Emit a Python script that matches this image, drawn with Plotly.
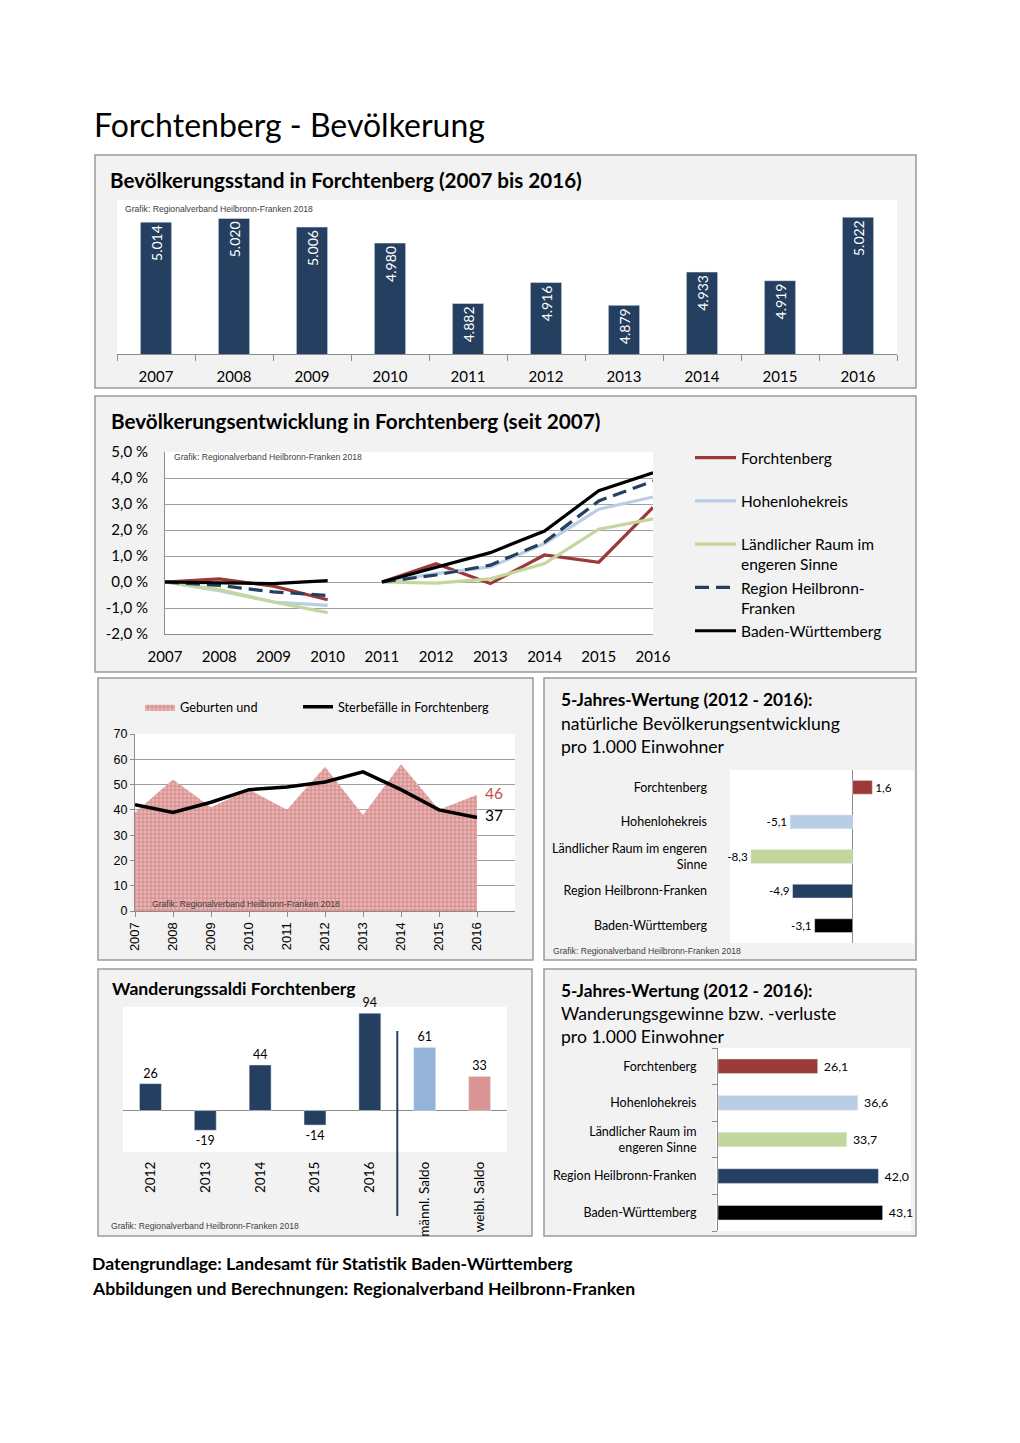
import plotly.graph_objects as go

W, H = 1020, 1443
OFF = 8  # page body margin of the exported HTML


def px(x):
    return (x - OFF) / W


def py(y):
    return 1 - (y - OFF) / H


FONT = "Lato"
ARIAL = "Liberation Sans"
NAVY = "#243f60"
RED = "#9b3a38"
LBLUE = "#b9cde5"
GREEN = "#c3d69b"
GRID = "#a0a0a0"

# ---------------- data ----------------
years = [2007, 2008, 2009, 2010, 2011, 2012, 2013, 2014, 2015, 2016]
year_labels = [str(y) for y in years]
population = [5014, 5020, 5006, 4980, 4882, 4916, 4879, 4933, 4919, 5022]

dev_forch = [0.0, 0.12, -0.16, -0.68, 0.0, 0.70, -0.06, 1.04, 0.76, 2.87]
dev_hohen = [0.0, -0.33, -0.77, -0.90, 0.0, 0.32, 0.58, 1.48, 2.80, 3.27]
dev_laendl = [0.0, -0.29, -0.77, -1.18, 0.0, -0.04, 0.12, 0.71, 2.03, 2.43]
dev_region = [0.0, -0.13, -0.38, -0.52, 0.0, 0.27, 0.65, 1.53, 3.12, 3.88]
dev_bw = [0.0, -0.04, -0.06, 0.05, 0.0, 0.55, 1.13, 1.96, 3.51, 4.20]
dev_ticks = [-2, -1, 0, 1, 2, 3, 4, 5]

births = [39, 52, 41, 48, 40, 57, 38, 58, 40, 46]
deaths = [42, 39, 43, 48, 49, 51, 55, 48, 40, 37]

regions = ["Forchtenberg", "Hohenlohekreis", "Ländlicher Raum im engeren Sinne",
           "Region Heilbronn-Franken", "Baden-Württemberg"]
region_labels_nat = ["Forchtenberg", "Hohenlohekreis", "Ländlicher Raum im engeren<br>Sinne",
                     "Region Heilbronn-Franken", "Baden-Württemberg"]
region_labels_mig = ["Forchtenberg", "Hohenlohekreis", "Ländlicher Raum im<br>engeren Sinne",
                     "Region Heilbronn-Franken", "Baden-Württemberg"]
region_colors = [RED, LBLUE, GREEN, NAVY, "#000000"]
natural = [1.6, -5.1, -8.3, -4.9, -3.1]
migration_rate = [26.1, 36.6, 33.7, 42.0, 43.1]

saldo_cats = ["2012", "2013", "2014", "2015", "2016", "männl. Saldo", "weibl. Saldo"]
saldo_vals = [26, -19, 44, -14, 94, 61, 33]
saldo_colors = [NAVY, NAVY, NAVY, NAVY, NAVY, "#95b3d7", "#d99694"]


def de1(v):
    return f"{v:.1f}".replace(".", ",")


def thousands(v):
    return f"{v:,}".replace(",", ".")


def split(vals):
    xs = years[:4] + [None] + years[4:]
    ys = vals[:4] + [None] + vals[4:]
    return xs, ys


def last_label(vals):
    return [""] * (len(vals) - 1) + ["\u00a0\u00a0" + str(vals[-1])]


fig = go.Figure()

# ---------------- panel 1: population bars ----------------
fig.add_trace(go.Bar(
    x=year_labels, y=population, xaxis="x", yaxis="y",
    marker=dict(color=NAVY), showlegend=False,
    text=[thousands(v) for v in population], textposition="inside",
    textangle=-90, insidetextanchor="end",
    textfont=dict(family=FONT, size=14, color="white"),
))

# ---------------- panel 2: development lines ----------------
series = [
    ("Forchtenberg<br>\u00a0", dev_forch, RED, "solid"),
    ("Hohenlohekreis<br>\u00a0", dev_hohen, LBLUE, "solid"),
    ("Ländlicher Raum im<br>engeren Sinne", dev_laendl, GREEN, "solid"),
    ("Region Heilbronn-<br>Franken", dev_region, NAVY, "14px,7px"),
    ("Baden-Württemberg", dev_bw, "#000000", "solid"),
]
for name, vals, col, dash in series:
    xs, ys = split(vals)
    fig.add_trace(go.Scatter(
        x=xs, y=ys, xaxis="x2", yaxis="y2", mode="lines", name=name,
        line=dict(color=col, width=3.2, dash=dash), legend="legend2",
        connectgaps=False,
    ))

# ---------------- panel 3: births / deaths ----------------
fig.add_trace(go.Scatter(
    x=years, y=births, xaxis="x3", yaxis="y3", mode="lines+text",
    fill="tozeroy", line=dict(width=0, color="#d99694"),
    fillpattern=dict(shape=".", size=4, solidity=0.45, fgcolor="#f5dcdc", bgcolor="#d99392"),
    name="Geburten und", legend="legend3",
    text=last_label(births), textposition="middle right",
    textfont=dict(family=FONT, size=15.5, color="#c0504d"), cliponaxis=False,
))
fig.add_trace(go.Scatter(
    x=years, y=deaths, xaxis="x3", yaxis="y3", mode="lines+text",
    line=dict(width=3.5, color="#000000"),
    name="Sterbefälle in Forchtenberg", legend="legend4",
    text=last_label(deaths), textposition="middle right",
    textfont=dict(family=FONT, size=15.5, color="#000000"), cliponaxis=False,
))

# ---------------- panel 4: natural development ----------------
fig.add_trace(go.Bar(
    x=natural, y=regions, orientation="h", xaxis="x4", yaxis="y4",
    marker=dict(color=region_colors), showlegend=False,
    text=[de1(v) for v in natural], textposition="outside",
    textfont=dict(family=FONT, size=13.5, color="#000000"), cliponaxis=False,
))

# ---------------- panel 5: migration saldi ----------------
fig.add_trace(go.Bar(
    x=saldo_cats, y=saldo_vals, xaxis="x5", yaxis="y5",
    marker=dict(color=saldo_colors), showlegend=False,
    text=[str(v) for v in saldo_vals], textposition="outside",
    textfont=dict(family=FONT, size=12.5, color="#000000"), cliponaxis=False,
))

# ---------------- panel 6: migration rates ----------------
fig.add_trace(go.Bar(
    x=migration_rate, y=regions, orientation="h", xaxis="x6", yaxis="y6",
    marker=dict(color=region_colors), showlegend=False,
    text=["\u00a0" + de1(v) for v in migration_rate], textposition="outside",
    textfont=dict(family=FONT, size=13.5, color="#000000"), cliponaxis=False,
))

# ---------------- shapes (panels) ----------------
shapes = []
panels = [(95, 155, 916, 388), (95, 396, 916, 672), (98, 678, 533, 960),
          (544, 678, 916, 960), (98, 969, 532, 1236), (544, 969, 916, 1236)]
for x0, y0, x1, y1 in panels:
    shapes.append(dict(type="rect", xref="paper", yref="paper", layer="below",
                       x0=px(x0), x1=px(x1), y0=py(y1), y1=py(y0),
                       fillcolor="#f2f2f2", line=dict(color="#9a9a9a", width=1.5)))
whites = [(117, 200, 897, 354), (165, 452, 653, 634), (135, 734, 515, 911),
          (730, 770, 914, 943), (123, 1007, 507, 1152), (716, 1048, 911, 1231)]
for x0, y0, x1, y1 in whites:
    shapes.append(dict(type="rect", xref="paper", yref="paper", layer="below",
                       x0=px(x0), x1=px(x1), y0=py(y1), y1=py(y0),
                       fillcolor="#ffffff", line=dict(width=0)))
# separator in panel 5
shapes.append(dict(type="line", xref="x5", yref="paper", x0=4.5, x1=4.5,
                   y0=py(1216), y1=py(1031), line=dict(color=NAVY, width=2)))

# ---------------- annotations ----------------
ann = []


def text(x, y, t, size, bold=False, family=FONT, color="#000000"):
    ann.append(dict(x=px(x), y=py(y), xref="paper", yref="paper", text=t, showarrow=False,
                    xanchor="left", yanchor="middle", align="left",
                    font=dict(family=family, size=size, color=color,
                              weight="bold" if bold else "normal")))


text(92, 124, "Forchtenberg - Bevölkerung", 32)
text(108, 180, "Bevölkerungsstand in Forchtenberg (2007 bis 2016)", 20.6, bold=True)
text(109, 421, "Bevölkerungsentwicklung in Forchtenberg (seit 2007)", 20.7, bold=True)
text(559, 700, "5-Jahres-Wertung (2012 - 2016):", 17.3, bold=True)
text(559, 723, "natürliche Bevölkerungsentwicklung", 17.6)
text(559, 746, "pro 1.000 Einwohner", 17.6)
text(110, 988, "Wanderungssaldi Forchtenberg", 17.6, bold=True)
text(559, 990, "5-Jahres-Wertung (2012 - 2016):", 17.3, bold=True)
text(559, 1013, "Wanderungsgewinne bzw. -verluste", 17.6)
text(559, 1036, "pro 1.000 Einwohner", 17.6)
text(90, 1263, "Datengrundlage: Landesamt für Statistik Baden-Württemberg", 17.6, bold=True)
text(90, 1288, "Abbildungen und Berechnungen: Regionalverband Heilbronn-Franken", 17.6, bold=True)

credit = "Grafik: Regionalverband Heilbronn-Franken 2018"
for (cx, cy) in [(123, 209), (172, 457), (150, 904), (551, 951), (109, 1226)]:
    text(cx, cy, credit, 8.6, family=ARIAL, color="#404040")

# ---------------- layout ----------------
axfont = dict(family=FONT, size=15, color="#000000")
fig.update_layout(
    width=W, height=H, margin=dict(l=0, r=0, t=0, b=0, pad=0, autoexpand=False),
    paper_bgcolor="#ffffff", plot_bgcolor="rgba(0,0,0,0)",
    bargap=0.6, shapes=shapes, annotations=ann,
    font=dict(family=FONT, color="#000000"),
    # panel 1
    xaxis=dict(domain=[px(117), px(897)], anchor="y", type="category",
               showline=True, linecolor="#8c8c8c", ticks="outside", tickson="boundaries",
               ticklen=6, tickcolor="#8c8c8c", tickfont=axfont, showgrid=False,
               ticklabelstandoff=9),
    yaxis=dict(domain=[py(354), py(200)], anchor="x", range=[4800, 5050], visible=False),
    # panel 2
    xaxis2=dict(domain=[px(165), px(653)], anchor="y2", range=[2007, 2016],
                tickvals=years, ticktext=year_labels, tickfont=axfont,
                showline=True, linecolor="#8c8c8c", showgrid=False, zeroline=False,
                ticks="", ticklabelstandoff=9),
    yaxis2=dict(domain=[py(634), py(452)], anchor="x2", range=[-2, 5],
                tickvals=dev_ticks, ticktext=[f"{v:.1f} %".replace(".", ",") for v in dev_ticks],
                tickfont=axfont, showgrid=True, gridcolor=GRID, gridwidth=1,
                showline=True, linecolor="#8c8c8c", zeroline=False, ticks="",
                ticklabelstandoff=13),
    # panel 3
    xaxis3=dict(domain=[px(135), px(515)], anchor="y3", range=[2007, 2017],
                tickvals=years, ticktext=year_labels, tickangle=-90,
                tickfont=dict(family=ARIAL, size=13, color="#000000"),
                showline=True, linecolor="#8c8c8c", ticks="outside", ticklen=5,
                tickcolor="#8c8c8c", showgrid=False, zeroline=False),
    yaxis3=dict(domain=[py(911), py(734)], anchor="x3", range=[0, 70], dtick=10,
                tickfont=dict(family=ARIAL, size=12.5, color="#000000"),
                showgrid=True, gridcolor=GRID, showline=True, linecolor="#8c8c8c",
                ticks="outside", ticklen=4, tickcolor="#8c8c8c", zeroline=False),
    # panel 4
    xaxis4=dict(domain=[px(730), px(914)], anchor="y4", range=[-10, 5], showticklabels=False,
                showgrid=False, zeroline=True, zerolinecolor="#8c8c8c", zerolinewidth=1,
                showline=False),
    yaxis4=dict(domain=[py(943), py(770)], anchor="x4", type="category",
                categoryarray=regions, autorange="reversed",
                tickvals=regions, ticktext=region_labels_nat,
                tickfont=dict(family=FONT, size=12.5, color="#000000"),
                showline=False, showgrid=False, ticks="", ticklabelstandoff=22),
    # panel 5
    xaxis5=dict(domain=[px(123), px(507)], anchor="y5", type="category", tickangle=-90,
                tickfont=dict(family=FONT, size=13.5, color="#000000"),
                showline=False, showgrid=False, ticks="", ticklabelstandoff=6),
    yaxis5=dict(domain=[py(1152), py(1007)], anchor="x5", range=[-40, 100],
                showticklabels=False, showgrid=False, zeroline=True,
                zerolinecolor="#8c8c8c", zerolinewidth=1, showline=False),
    # panel 6
    xaxis6=dict(domain=[px(718), px(909)], anchor="y6", range=[0, 50],
                showticklabels=False, showgrid=False, zeroline=False, showline=False),
    yaxis6=dict(domain=[py(1231), py(1048)], anchor="x6", type="category",
                categoryarray=regions, autorange="reversed",
                tickvals=regions, ticktext=region_labels_mig,
                tickfont=dict(family=FONT, size=12.5, color="#000000"),
                showline=True, linecolor="#8c8c8c", ticks="outside", tickson="boundaries",
                ticklen=5, tickcolor="#8c8c8c", showgrid=False, ticklabelstandoff=18),
    legend2=dict(x=px(690), y=py(441), xanchor="left", yanchor="top",
                 font=dict(family=FONT, size=15.5, color="#000000"), itemwidth=41,
                 bgcolor="rgba(0,0,0,0)", valign="top", tracegroupgap=0),
    legend3=dict(x=px(140), y=py(692), xanchor="left", yanchor="top",
                 font=dict(family=FONT, size=12.7, color="#000000"),
                 bgcolor="rgba(0,0,0,0)"),
    legend4=dict(x=px(298), y=py(692), xanchor="left", yanchor="top",
                 font=dict(family=FONT, size=12.7, color="#000000"),
                 bgcolor="rgba(0,0,0,0)"),
)

fig.write_html("out.html")
